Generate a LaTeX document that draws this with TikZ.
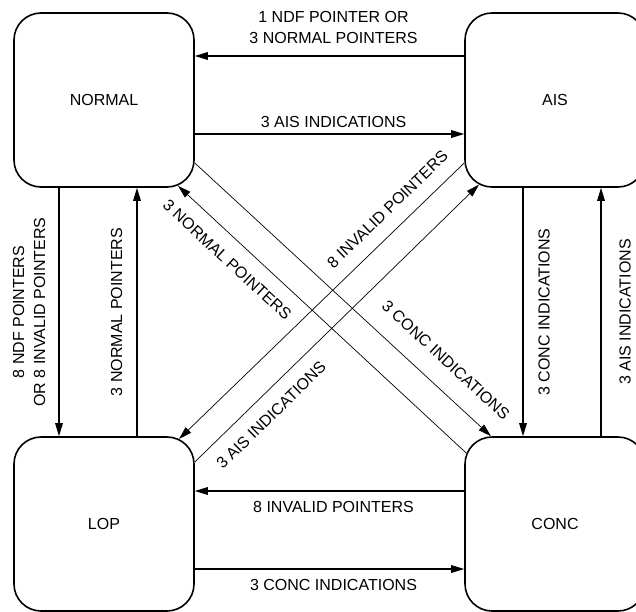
\documentclass[tikz,border=0pt]{standalone}
\usepackage{fontspec}
\setmainfont{Liberation Sans}
\usetikzlibrary{arrows.meta}

\tikzset{
  state/.style={draw, line width=0.8pt, rounded corners=13.5pt,
    minimum width=90pt, minimum height=87pt, inner sep=0pt},
  flow/.style={line width=0.6pt, -{Triangle[length=6.5pt,width=3.8pt]}},
  cross/.style={line width=0.35pt, -{Triangle[length=6.5pt,width=3.8pt]}},
  lab/.style={inner sep=0pt, align=center}
}

\begin{document}
\begin{tikzpicture}[x=0.5pt, y=-0.5pt, font=\fontsize{8}{10.5}\selectfont]

    \useasboundingbox (0,0) rectangle (636,611);

    % these are the states
    \node[state] (normal) at (104,100) {NORMAL};
    \node[state] (ais)    at (555,100) {AIS};
    \node[state] (lop)    at (104,524) {LOP};
    \node[state] (conc)   at (555,524) {CONC};

    % top and bottom
    \draw[flow] ([yshift=22pt]ais.west) -- node[lab, yshift=14.3pt, xshift=2pt] {1 NDF POINTER OR\\3 NORMAL POINTERS} ([yshift=22pt]normal.east);
    \draw[flow] ([yshift=-17pt]normal.east) -- node[lab, yshift=6.15pt, xshift=2pt] {3 AIS INDICATIONS} ([yshift=-17pt]ais.west);
    \draw[flow] ([yshift=16.5pt]conc.west) -- node[lab, yshift=-8.15pt, xshift=2pt] {8 INVALID POINTERS} ([yshift=16.5pt]lop.east);
    \draw[flow] ([yshift=-22.5pt]lop.east) -- node[lab, yshift=-8pt, xshift=2pt] {3 CONC INDICATIONS} ([yshift=-22.5pt]conc.west);

    % left and right
    \draw[flow] ([xshift=-22.5pt]normal.south) -- node[lab, xshift=-15pt, rotate=90] {8 NDF POINTERS\\OR 8 INVALID POINTERS} ([xshift=-22.5pt]lop.north);
    \draw[flow] ([xshift=16.5pt]lop.north) -- node[lab, xshift=-10.15pt, rotate=90] {3 NORMAL POINTERS} ([xshift=16.5pt]normal.south);
    \draw[flow] ([xshift=-16pt]ais.south) -- node[lab, xshift=10.5pt, rotate=90] {3 CONC INDICATIONS} ([xshift=-16pt]conc.north);
    \draw[flow] ([xshift=23pt]conc.north) -- node[lab, xshift=12pt, rotate=90] {3 AIS INDICATIONS} ([xshift=23pt]ais.south);

    % the diagonals
    \draw[cross] ([yshift=-31.5pt]normal.east) -- node[lab, pos=0.79, sloped, above=9.6pt] {3 CONC INDICATIONS} ([xshift=-32pt]conc.north);
    \draw[cross] ([shift={(1pt,35.5pt)}]conc.west) -- node[lab, pos=0.78, sloped, below=7.4pt] {3 NORMAL POINTERS} ([shift={(37pt,1pt)}]normal.south);
    \draw[cross] ([yshift=-31.5pt]ais.west) -- node[lab, pos=0.22, sloped, above=7pt] {8 INVALID POINTERS} ([shift={(37.5pt,-1.4pt)}]lop.north);
    \draw[cross] ([yshift=31pt]lop.east) -- node[lab, pos=0.22, sloped, below=6.9pt] {3 AIS INDICATIONS} ([shift={(-38pt,1.6pt)}]ais.south);

\end{tikzpicture}
\end{document}
